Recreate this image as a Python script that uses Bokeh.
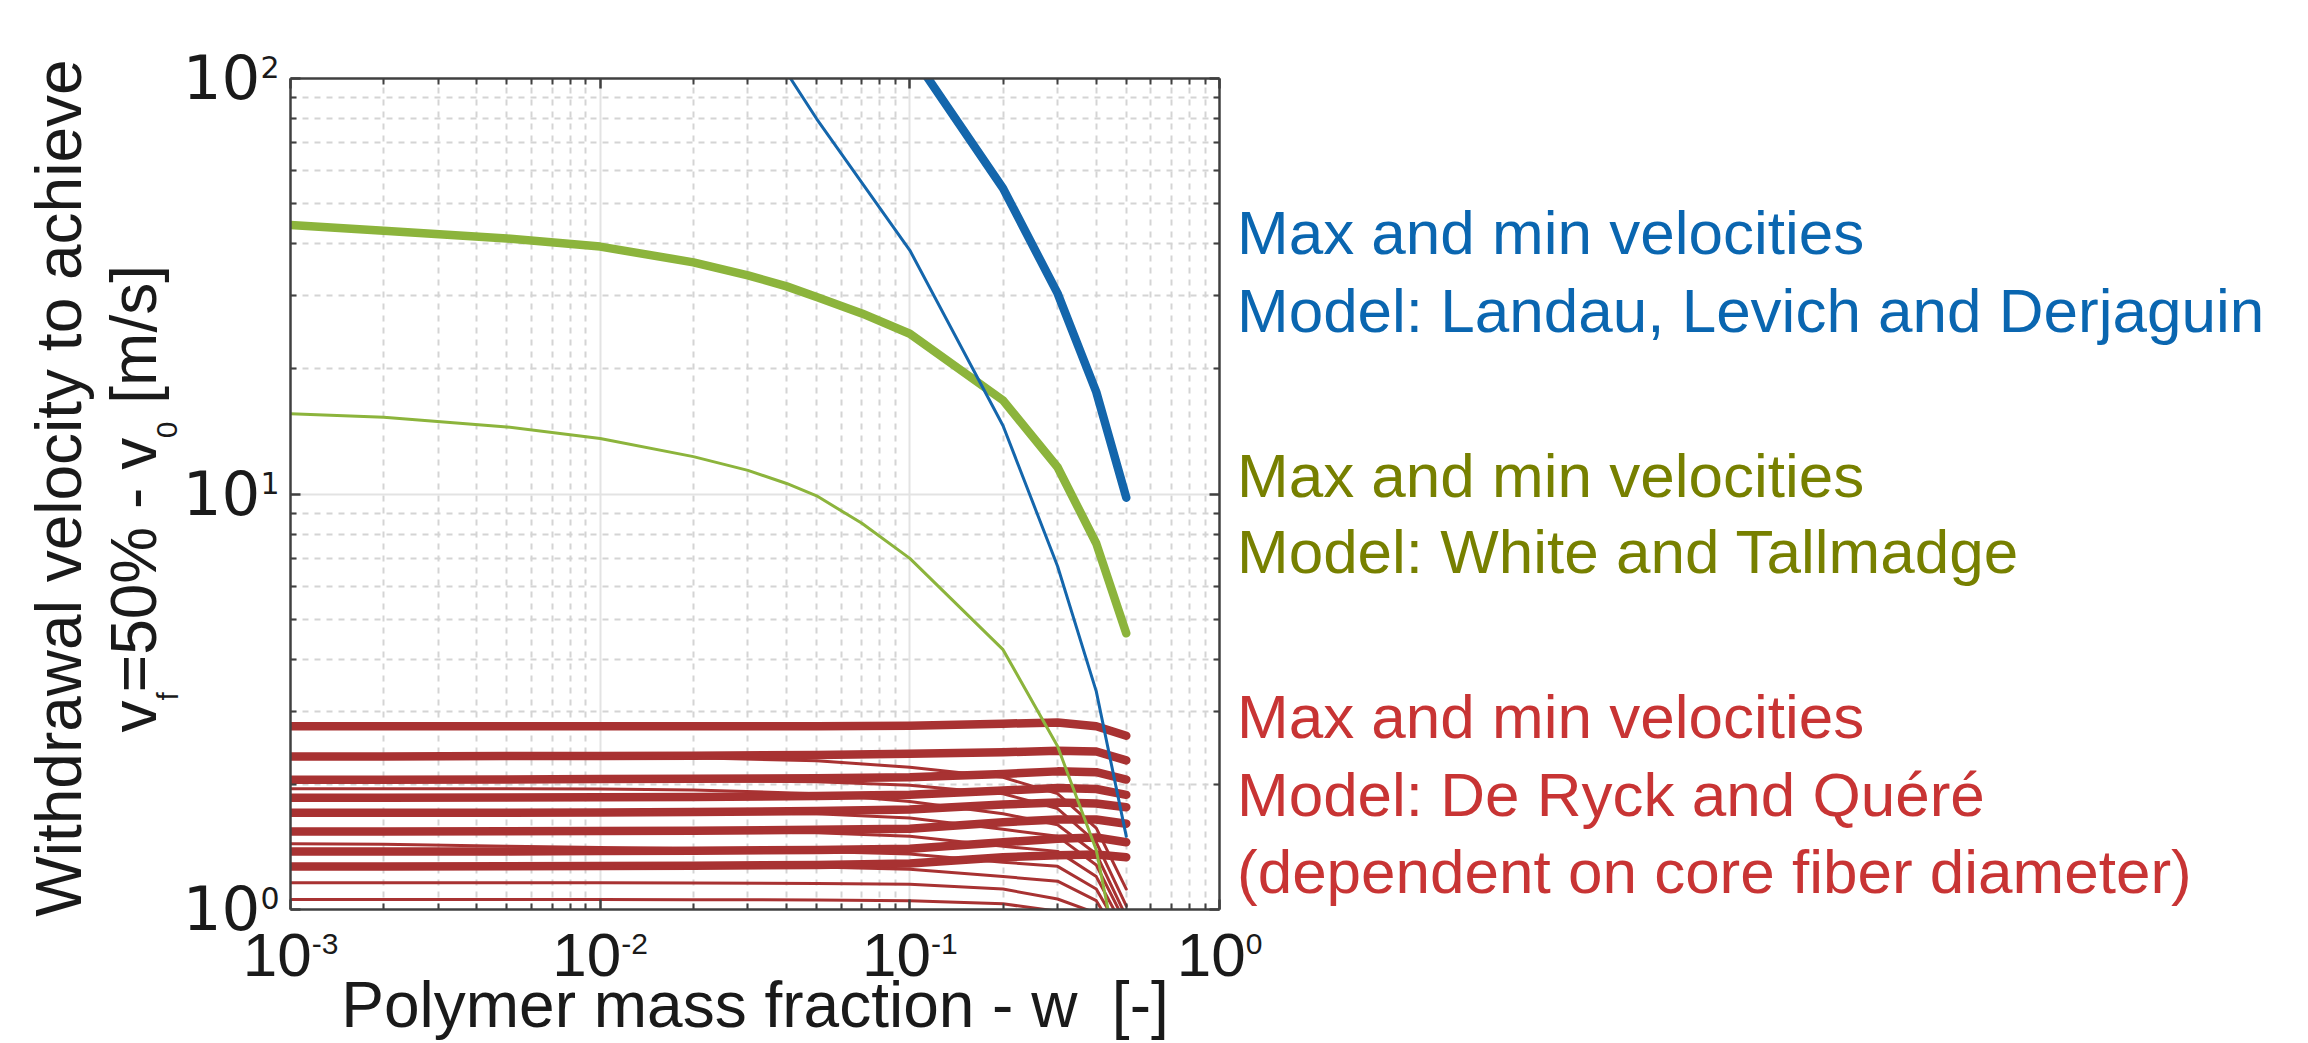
from bokeh.plotting import figure
from bokeh.layouts import row, column
from bokeh.models import Range1d, FixedTicker, LogAxis, CustomJSTickFormatter
from bokeh.core.properties import value
from bokeh.embed import file_html
from bokeh.resources import INLINE

# ---------------- data ----------------
w_grid = [0.001, 0.002, 0.005, 0.01, 0.02, 0.05, 0.1, 0.2, 0.3, 0.4, 0.5]

# Landau, Levich and Derjaguin
lld_max_w = [0.05, 0.1, 0.2, 0.3, 0.4, 0.5]
lld_max = [250, 116, 54.4, 30.4, 17.6, 9.8]
lld_min_w = [0.02, 0.05, 0.1, 0.2, 0.3, 0.4, 0.5]
lld_min = [230, 80, 38.6, 14.6, 6.7, 3.35, 1.5]

# White and Tallmadge
wt_w = [0.001, 0.002, 0.005, 0.01, 0.02, 0.03, 0.04, 0.05, 0.07, 0.1, 0.2, 0.3, 0.4, 0.5]
wt_max = [44.4, 43.0, 41.2, 39.4, 36.1, 33.6, 31.6, 29.8, 27.2, 24.3, 16.8, 11.6, 7.6, 4.62]
wt_min = [15.6, 15.3, 14.5, 13.6, 12.3, 11.4, 10.6, 9.9, 8.5, 7.0, 4.22, 2.47, 1.39, 0.6]

# De Ryck and Quere - max velocities (one per core fiber diameter)
drq_max_1 = [2.76, 2.76, 2.76, 2.76, 2.76, 2.76, 2.77, 2.80, 2.82, 2.76, 2.62]
drq_max_2 = [2.335, 2.335, 2.34, 2.34, 2.345, 2.355, 2.37, 2.39, 2.41, 2.40, 2.285]
drq_max_3 = [2.053, 2.053, 2.055, 2.06, 2.065, 2.07, 2.08, 2.12, 2.15, 2.14, 2.055]
drq_max_4 = [1.858, 1.858, 1.86, 1.862, 1.866, 1.875, 1.89, 1.934, 1.96, 1.95, 1.888]
drq_max_5 = [1.709, 1.709, 1.71, 1.712, 1.716, 1.725, 1.74, 1.79, 1.81, 1.80, 1.763]
drq_max_6 = [1.541, 1.541, 1.542, 1.545, 1.548, 1.555, 1.565, 1.622, 1.647, 1.647, 1.609]
drq_max_7 = [1.379, 1.379, 1.38, 1.382, 1.385, 1.39, 1.40, 1.452, 1.48, 1.49, 1.452]
drq_max_8 = [1.269, 1.269, 1.27, 1.272, 1.275, 1.28, 1.29, 1.336, 1.35, 1.356, 1.336]

# De Ryck and Quere - min velocities
drq_min_1 = [2.335, 2.335, 2.335, 2.33, 2.32, 2.28, 2.20, 2.08, 1.90, 1.57, 1.12]
drq_min_2 = [2.053, 2.053, 2.053, 2.05, 2.045, 2.03, 1.99, 1.90, 1.75, 1.45, 1.02]
drq_min_3 = [1.953, 1.953, 1.952, 1.95, 1.94, 1.90, 1.82, 1.70, 1.60, 1.36, 0.96]
drq_min_4 = [1.709, 1.709, 1.709, 1.709, 1.708, 1.70, 1.66, 1.56, 1.50, 1.28, 0.92]
drq_min_5 = [1.541, 1.541, 1.541, 1.541, 1.54, 1.53, 1.50, 1.42, 1.38, 1.20, 0.88]
drq_min_6 = [1.44, 1.435, 1.42, 1.41, 1.40, 1.38, 1.36, 1.30, 1.27, 1.12, 0.84]
drq_min_7 = [1.269, 1.269, 1.269, 1.269, 1.268, 1.265, 1.25, 1.20, 1.17, 1.05, 0.80]
drq_min_8 = [1.16, 1.16, 1.16, 1.16, 1.158, 1.155, 1.15, 1.12, 1.06, 0.98, 0.75]
drq_min_9 = [1.057, 1.057, 1.057, 1.057, 1.056, 1.054, 1.05, 1.032, 0.99, 0.93, 0.70]

drq_max_all = [drq_max_1, drq_max_2, drq_max_3, drq_max_4,
               drq_max_5, drq_max_6, drq_max_7, drq_max_8]
drq_min_all = [drq_min_1, drq_min_2, drq_min_3, drq_min_4, drq_min_5,
               drq_min_6, drq_min_7, drq_min_8, drq_min_9]

x_major = [1e-3, 1e-2, 1e-1, 1e0]
x_exps = ["-3", "-2", "-1", "0"]
y_major = [1e0, 1e1, 1e2]
y_exps = ["0", "1", "2"]

x_title = "Polymer mass fraction - w"
x_title_sub = "p"
x_title_unit = "[-]"
y_title_1 = "Withdrawal velocity to achieve"
notes = [
    ("Max and min velocities", "blue"),
    ("Model: Landau, Levich and Derjaguin", "blue"),
    ("Max and min velocities", "green"),
    ("Model: White and Tallmadge", "green"),
    ("Max and min velocities", "red"),
    ("Model: De Ryck and Quéré", "red"),
    ("(dependent on core fiber diameter)", "red"),
]

# ---------------- geometry / styling ----------------
FONT = "Liberation Sans"
YFONT = "DejaVu Sans"
AX = "#404040"
BLUE = "#1466AC"
GREEN = "#8CB43C"
RED = "#A83232"
NOTE_COLORS = {"blue": "#0A66B0", "green": "#778000", "red": "#C83434"}
TXT = "#1a1a1a"

TOTAL_W, TOTAL_H = 2300, 1043
F_LEFT, F_TOP, F_W, F_H = 290, 78, 929, 831       # plot frame in page pixels
F_BOT = F_TOP + F_H
LEFT_W = 284                                      # left text strip width
P_RIGHT = 12
UPPER_H = 931
BOT_H = TOTAL_H - UPPER_H
DEC_X = F_W / 3.0
DEC_Y = F_H / 2.0
BASE_FIX = 0.37   # measured: glyph text sits this many em below its anchor

x_minor = [m * 10.0 ** e for e in (-3, -2, -1) for m in range(2, 10)]
y_minor = [m * 10.0 ** e for e in (0, 1) for m in range(2, 10)]
blank = CustomJSTickFormatter(code="return ''")

# ---------------- main plot ----------------
p = figure(title=None, x_axis_type="log", y_axis_type="log",
           x_range=Range1d(1e-3, 1), y_range=Range1d(1, 100),
           frame_width=F_W, frame_height=F_H,
           min_border_left=F_LEFT - LEFT_W, min_border_right=P_RIGHT,
           min_border_top=F_TOP, min_border_bottom=UPPER_H - F_BOT,
           output_backend="svg", toolbar_location=None)
p.frame_align = False
p.outline_line_color = None
p.background_fill_color = "white"
p.border_fill_color = "white"

def style_axis(ax, ticker):
    ax.ticker = ticker
    ax.formatter = blank
    ax.axis_line_color = AX
    ax.axis_line_width = 2.5
    ax.major_tick_in = 10
    ax.major_tick_out = 0
    ax.minor_tick_in = 6
    ax.minor_tick_out = 0
    ax.major_tick_line_color = AX
    ax.minor_tick_line_color = AX
    ax.major_tick_line_width = 2.5
    ax.minor_tick_line_width = 2
    ax.major_label_text_font_size = "0px"
    ax.major_label_standoff = 0

xt = FixedTicker(ticks=x_major, minor_ticks=x_minor)
yt = FixedTicker(ticks=y_major, minor_ticks=y_minor)
style_axis(p.xaxis[0], xt)
style_axis(p.yaxis[0], yt)
top_ax = LogAxis()
right_ax = LogAxis()
style_axis(top_ax, FixedTicker(ticks=x_major, minor_ticks=x_minor))
style_axis(right_ax, FixedTicker(ticks=y_major, minor_ticks=y_minor))
p.add_layout(top_ax, "above")
p.add_layout(right_ax, "right")

for g, t in ((p.xgrid[0], xt), (p.ygrid[0], yt)):
    g.ticker = t
    g.grid_line_color = "#e3e3e3"
    g.grid_line_width = 2
    g.minor_grid_line_color = "#d4d4d4"
    g.minor_grid_line_width = 2
    g.minor_grid_line_dash = "6 6"

THICK, THIN = 8.5, 3
for ys in drq_max_all:
    p.line(w_grid, ys, line_color=RED, line_width=THICK, line_cap="round", line_join="round")
for ys in drq_min_all:
    p.line(w_grid, ys, line_color=RED, line_width=THIN, line_cap="round", line_join="round")
p.line(wt_w, wt_max, line_color=GREEN, line_width=THICK, line_cap="round", line_join="round")
p.line(wt_w, wt_min, line_color=GREEN, line_width=THIN, line_cap="round", line_join="round")
p.line(lld_max_w, lld_max, line_color=BLUE, line_width=THICK, line_cap="round", line_join="round")
p.line(lld_min_w, lld_min, line_color=BLUE, line_width=THIN, line_cap="round", line_join="round")

def text_fig(width, height, xr, yr, x_type="linear", y_type="linear"):
    f = figure(title=None, width=width, height=height, x_range=xr, y_range=yr,
               x_axis_type=x_type, y_axis_type=y_type,
               x_axis_location=None, y_axis_location=None,
               min_border=0, output_backend="svg", toolbar_location=None)
    f.frame_align = False
    f.grid.visible = False
    f.outline_line_color = None
    f.background_fill_color = "white"
    f.border_fill_color = "white"
    return f

def put(f, x, y, s, size, color=TXT, align="left", angle=0, xo=0, yo=0, font=FONT):
    # (x, y) is the baseline anchor; correct for the measured glyph offset
    if angle == 0:
        yo = yo - BASE_FIX * size
    else:
        xo = xo - BASE_FIX * size
    f.text(x=[x], y=[y], text=[s], text_font=value(font),
           text_font_size=value(f"{size}px"), text_color=color,
           text_align=align, text_baseline="alphabetic",
           angle=angle, angle_units="deg", x_offset=xo, y_offset=yo)

TS, SS, FS = 62, 30, 64
SPACE = 0.278 * FS

def ew(s):
    return sum({"-": 0.333}.get(c, 0.556) for c in s) * SS

def ew_dv(s):
    return sum({"-": 0.838}.get(c, 0.636) for c in s) * SS

W10 = 1.112 * TS

# ---------------- left strip: y tick labels + y title ----------------
ly_lo = 10 ** (-(UPPER_H - F_BOT) / DEC_Y)
ly_hi = 10 ** (2 + F_TOP / DEC_Y)
left = text_fig(LEFT_W, UPPER_H, Range1d(0, LEFT_W), Range1d(ly_lo, ly_hi), y_type="log")

def ly(page_y):
    return 10 ** ((F_BOT - page_y) / DEC_Y)

for yv, e in zip(y_major, y_exps):
    put(left, LEFT_W - 5 - ew_dv(e), yv, "10", 61, align="right", yo=21, font=YFONT)
    put(left, LEFT_W - 5, yv, e, SS, align="right", yo=0, font=YFONT)

put(left, 82, ly(487.5), y_title_1, FS, align="center", angle=90)
base = ly(732)
put(left, 157, base, "v", FS, angle=90)
put(left, 157, base, "f", SS, angle=90, xo=21, yo=-32)
put(left, 157, base, "=50% - v", FS, angle=90, yo=-40.3)
put(left, 157, base, "0", SS, angle=90, xo=21, yo=-294.3)
put(left, 157, base, "[m/s]", FS, angle=90, yo=-311 - SPACE)

# ---------------- right strip: model notes ----------------
R_X0 = F_LEFT + F_W + P_RIGHT
right = text_fig(TOTAL_W - R_X0, UPPER_H, Range1d(0, TOTAL_W - R_X0), Range1d(0, UPPER_H))
baselines = [255, 333, 498, 574, 739, 817, 894]
for (s, c), by in zip(notes, baselines):
    put(right, 1236.5 - R_X0, UPPER_H - by, s, 62, color=NOTE_COLORS[c])

# ---------------- bottom strip: x tick labels + x title ----------------
bx_lo = 10 ** (-3 - F_LEFT / DEC_X)
bx_hi = 10 ** (-3 + (TOTAL_W - F_LEFT) / DEC_X)
bottom = text_fig(TOTAL_W, BOT_H, Range1d(bx_lo, bx_hi), Range1d(0, BOT_H), x_type="log")

for xv, e in zip(x_major, x_exps):
    total = W10 + ew(e)
    put(bottom, xv, TOTAL_H - 977.5, "10", TS, xo=-total / 2)
    put(bottom, xv, TOTAL_H - 954.5, e, SS, xo=-total / 2 + W10)

wA = 11.502 * FS
wS = 0.556 * SS
wB = 0.889 * FS
start = -(wA + wS + SPACE + wB) / 2
xc = 10 ** -1.5   # centre of the x axis
put(bottom, xc, TOTAL_H - 1028, x_title, FS, xo=start)
put(bottom, xc, TOTAL_H - 1028, x_title_unit, FS, xo=start + wA + wS + SPACE)

layout = column(row(left, p, right), bottom)
open("out.html", "w").write(file_html(layout, INLINE))
